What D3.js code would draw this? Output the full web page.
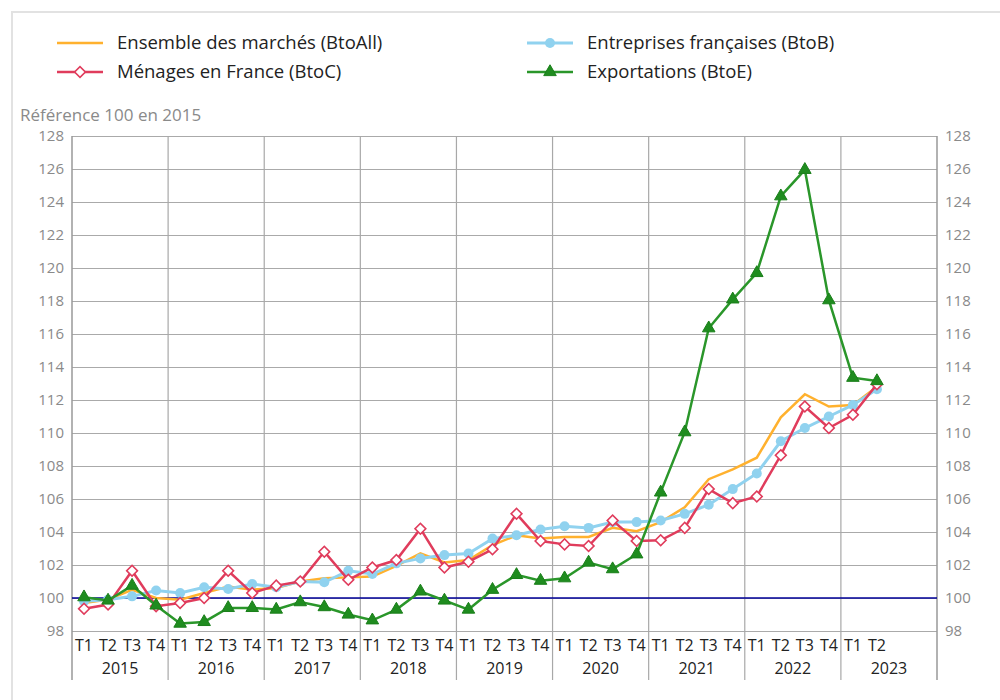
<!DOCTYPE html>
<html>
<head>
<meta charset="utf-8">
<script src="https://cdn.jsdelivr.net/npm/d3@7"></script>
<style>
  body { margin: 0; background: #fff; }
  svg { font-family: "Open Sans", sans-serif; }
</style>
</head>
<body>
<div id="grafico"></div>
<script>
// Données (indice, référence 100 en 2015)
const annees = ["2015", "2016", "2017", "2018", "2019", "2020", "2021", "2022", "2023"];
const trimestres = ["T1", "T2", "T3", "T4"];
const categories = ["T1","T2","T3","T4","T1","T2","T3","T4","T1","T2","T3","T4","T1","T2","T3","T4",
  "T1","T2","T3","T4","T1","T2","T3","T4","T1","T2","T3","T4","T1","T2","T3","T4","T1","T2"];
const ticksY = [98, 100, 102, 104, 106, 108, 110, 112, 114, 116, 118, 120, 122, 124, 126, 128];

const btoAll = [99.7, 99.9, 100.5, 100.0, 99.9, 100.3, 100.7, 100.5, 100.6, 101.0, 101.2, 101.25,
  101.3, 101.95, 102.7, 102.15, 102.3, 103.2, 103.8, 103.6, 103.7, 103.7, 104.25, 104.05,
  104.6, 105.5, 107.2, 107.8, 108.5, 110.95, 112.35, 111.6, 111.7, 112.8];
const btoB = [99.8, 99.9, 100.1, 100.45, 100.3, 100.65, 100.55, 100.85, 100.65, 101.0, 100.95, 101.65,
  101.45, 102.1, 102.4, 102.6, 102.7, 103.6, 103.8, 104.15, 104.35, 104.25, 104.6, 104.6,
  104.7, 105.1, 105.65, 106.6, 107.55, 109.5, 110.3, 111.0, 111.7, 112.65];
const btoC = [99.35, 99.6, 101.65, 99.5, 99.7, 100.0, 101.65, 100.3, 100.75, 101.0, 102.8, 101.1,
  101.85, 102.3, 104.2, 101.85, 102.2, 102.95, 105.1, 103.45, 103.25, 103.15, 104.7, 103.45,
  103.5, 104.25, 106.6, 105.75, 106.15, 108.65, 111.6, 110.3, 111.1, 112.95];
const btoE = [100.05, 99.85, 100.75, 99.55, 98.45, 98.55, 99.4, 99.4, 99.3, 99.75, 99.45, 99.0,
  98.65, 99.3, 100.4, 99.85, 99.3, 100.5, 101.4, 101.05, 101.2, 102.15, 101.75, 102.65,
  106.4, 110.05, 116.35, 118.1, 119.7, 124.35, 125.95, 118.05, 113.35, 113.15];

const series = [
  { nom: "Ensemble des marchés (BtoAll)", valeurs: btoAll, couleur: "#ffb12e", largeur: 2.5, marqueur: null },
  { nom: "Entreprises françaises (BtoB)", valeurs: btoB, couleur: "#90d2ef", largeur: 3, marqueur: "rond" },
  { nom: "Ménages en France (BtoC)", valeurs: btoC, couleur: "#e03c5c", largeur: 2.5, marqueur: "losange" },
  { nom: "Exportations (BtoE)", valeurs: btoE, couleur: "#2a962a", largeur: 2.5, marqueur: "triangle" }
];

const largura = 1000, altura = 700;
const margem = { top: 136, right: 63, bottom: 69, left: 72 };

const svg = d3.select("#grafico").append("svg")
  .attr("width", largura)
  .attr("height", altura);

// Cadre gris clair
svg.append("rect")
  .attr("x", 12).attr("y", 12)
  .attr("width", 1000).attr("height", 700)
  .attr("fill", "none")
  .attr("stroke", "#e2e2e2")
  .attr("stroke-width", 2);

// Échelles : 36 emplacements trimestriels (2015 à 2023)
const emplacements = annees.flatMap(a => trimestres.map(t => a + "-" + t));
const eixoX = d3.scaleBand().domain(emplacements).range([margem.left, largura - margem.right]).padding(0);
const eixoY = d3.scaleLinear().domain([98, 128]).range([altura - margem.bottom, margem.top]);
const cle = i => emplacements[i];
const cx = i => eixoX(cle(i)) + eixoX.bandwidth() / 2;

const basY = eixoY(98);
const piedY = 680;

// Quadrillage horizontal
svg.append("g")
  .attr("transform", `translate(${margem.left},0)`)
  .call(d3.axisLeft(eixoY).tickValues(ticksY).tickSize(-(largura - margem.left - margem.right)).tickFormat(""))
  .call(g => g.select(".domain").remove())
  .call(g => g.selectAll("line").attr("stroke", "#aaa").attr("stroke-width", 1.2));

// Séparateurs d'années
const yearScale = d3.scaleBand().domain(annees).range([margem.left, largura - margem.right]);
svg.append("g").selectAll("line")
  .data(annees.slice(1))
  .join("line")
  .attr("x1", d => yearScale(d)).attr("x2", d => yearScale(d))
  .attr("y1", margem.top).attr("y2", piedY)
  .attr("stroke", "#a8a8a8").attr("stroke-width", 1.2);

// Axes verticaux gauche et droite
[margem.left, largura - margem.right].forEach(x => {
  svg.append("line")
    .attr("x1", x).attr("x2", x)
    .attr("y1", margem.top).attr("y2", piedY)
    .attr("stroke", "#999").attr("stroke-width", 1.5);
});

// Étiquettes de l'axe Y (gauche et droite)
const gauche = svg.append("g")
  .attr("transform", `translate(${margem.left - 8},0)`)
  .call(d3.axisLeft(eixoY).tickValues(ticksY).tickSize(0).tickPadding(0));
const droite = svg.append("g")
  .attr("transform", `translate(${largura - margem.right + 8},0)`)
  .call(d3.axisRight(eixoY).tickValues(ticksY).tickSize(0).tickPadding(0));
[gauche, droite].forEach(g => {
  g.select(".domain").remove();
  g.selectAll("text").attr("fill", "#8a8a8a").style("font-size", "15px").style("font-family", "Open Sans");
});

svg.append("text")
  .attr("x", 20).attr("y", 121)
  .attr("fill", "#8a8a8a")
  .style("font-size", "17px")
  .text("Référence 100 en 2015");

// Ligne de référence 100
svg.append("line")
  .attr("x1", margem.left).attr("x2", largura - margem.right)
  .attr("y1", eixoY(100)).attr("y2", eixoY(100))
  .attr("stroke", "#000099").attr("stroke-width", 1.5);

// Étiquettes de l'axe X
svg.append("g")
  .attr("transform", `translate(0,${basY})`)
  .call(d3.axisBottom(eixoX).tickSize(0).tickPadding(9)
    .tickValues(emplacements.slice(0, categories.length))
    .tickFormat((d, i) => categories[i]))
  .call(g => g.select(".domain").remove())
  .call(g => g.selectAll("text").attr("fill", "#222").style("font-size", "16px").style("font-family", "Open Sans"));

svg.append("g")
  .attr("transform", `translate(0,${basY + 23})`)
  .call(d3.axisBottom(yearScale).tickSize(0).tickPadding(9))
  .call(g => g.select(".domain").remove())
  .call(g => g.selectAll("text").attr("fill", "#222").style("font-size", "16px").style("font-family", "Open Sans"));

// Marqueurs
function dessinerMarqueur(g, type, couleur) {
  if (type === "rond") {
    g.append("circle").attr("r", 5).attr("fill", couleur);
  } else if (type === "losange") {
    g.append("path").attr("d", d3.symbol(d3.symbolSquare, 58)()).attr("transform", "rotate(45)")
      .attr("fill", "#fff").attr("stroke", couleur).attr("stroke-width", 1.6);
  } else if (type === "triangle") {
    g.append("path").attr("d", d3.symbol(d3.symbolTriangle, 68)())
      .attr("fill", "#1f8c1f").attr("stroke", "#1a7f1a").attr("stroke-width", 1);
  }
}

// Courbes
const ligne = d3.line().x((d, i) => cx(i)).y(d => eixoY(d));
series.forEach(s => {
  const g = svg.append("g");
  g.append("path")
    .datum(s.valeurs)
    .attr("d", ligne)
    .attr("fill", "none")
    .attr("stroke", s.couleur)
    .attr("stroke-width", s.largeur)
    .attr("stroke-linejoin", "miter");
  if (s.marqueur) {
    g.selectAll("g.pt")
      .data(s.valeurs)
      .join("g")
      .attr("class", "pt")
      .attr("transform", (d, i) => `translate(${cx(i)},${eixoY(d)})`)
      .each(function() { dessinerMarqueur(d3.select(this), s.marqueur, s.couleur); });
  }
});

// Légende
const positionsLegende = [
  { x: 57, y: 43 }, { x: 527, y: 43 }, { x: 57, y: 72 }, { x: 527, y: 72 }
];
series.forEach((s, i) => {
  const p = positionsLegende[i];
  const g = svg.append("g").attr("transform", `translate(${p.x},${p.y})`);
  g.append("line").attr("x1", 0).attr("x2", 46).attr("y1", 0).attr("y2", 0)
    .attr("stroke", s.couleur).attr("stroke-width", s.largeur);
  if (s.marqueur) {
    const m = g.append("g").attr("transform", "translate(23,0)");
    dessinerMarqueur(m, s.marqueur, s.couleur);
  }
  g.append("text").attr("x", 60).attr("y", 0).attr("dy", "0.35em")
    .attr("fill", "#222").style("font-size", "18.5px")
    .text(s.nom);
});
</script>
</body>
</html>
